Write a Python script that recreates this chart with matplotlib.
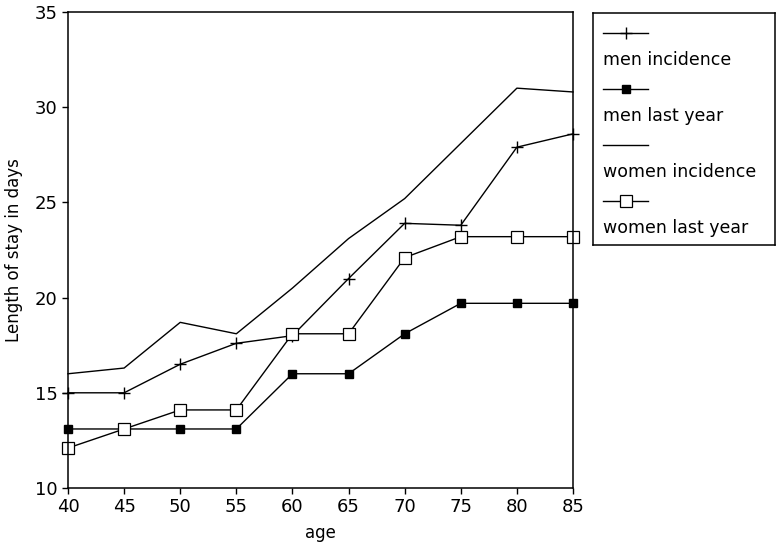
import numpy as np
import matplotlib
matplotlib.use('Agg')
import matplotlib.pyplot as plt

# Length of stay by age
age = [40, 45, 50, 55, 60, 65, 70, 75, 80, 85]
men_incidence = [15.0, 15.0, 16.5, 17.6, 18.0, 21.0, 23.9, 23.8, 27.9, 28.6]
men_last_year = [13.1, 13.1, 13.1, 13.1, 16.0, 16.0, 18.1, 19.7, 19.7, 19.7]
women_incidence = [16.0, 16.3, 18.7, 18.1, 20.5, 23.1, 25.2, 28.1, 31.0, 30.8]
women_last_year = [12.1, 13.1, 14.1, 14.1, 18.1, 18.1, 22.1, 23.2, 23.2, 23.2]

labels = ['men incidence', 'men last year', 'women incidence', 'women last year']
styles = [
    dict(marker='+', markersize=9, markeredgewidth=1.0),
    dict(marker='s', markersize=6, markerfacecolor='black', markeredgecolor='black'),
    dict(marker=None),
    dict(marker='s', markersize=8, markerfacecolor='white', markeredgecolor='black', markeredgewidth=0.9),
]
series = [men_incidence, men_last_year, women_incidence, women_last_year]

plt.rcParams['font.family'] = ['DejaVu Sans']

fig = plt.figure(figsize=(7.76, 5.53), dpi=100)
ax = fig.add_axes([68/776, 1 - 488/553, (573 - 68)/776, (488 - 12)/553])

for y, st in zip(series, styles):
    ax.plot(age, y, color='black', linewidth=1.0, clip_on=False, **st)

ax.set_xlim(40, 85)
ax.set_ylim(10, 35)
ax.set_xticks(range(40, 86, 5))
ax.set_yticks(range(10, 36, 5))
ax.tick_params(labelsize=13, length=4, width=1, direction='out', colors='black')
ax.tick_params(axis='x', pad=3)
ax.set_xlabel('age', fontsize=12, labelpad=6)
ax.set_ylabel('Length of stay in days', fontsize=12, labelpad=8)
for s in ax.spines.values():
    s.set_linewidth(1.1)

# legend box: line sample above each label
lg = fig.add_axes([593/776, 1 - 245/553, (775 - 593)/776, (245 - 13)/553])
lg.set_xlim(0, 1)
lg.set_ylim(1, 0)
lg.set_xticks([])
lg.set_yticks([])
for s in lg.spines.values():
    s.set_linewidth(1.1)
for i, (lab, st) in enumerate(zip(labels, styles)):
    y_line = (20 + i * 56) / 232
    y_text = (47 + i * 56) / 232
    lg.plot([0.055, 0.30], [y_line, y_line], color='black', linewidth=1.0)
    if st.get('marker'):
        lg.plot([0.18], [y_line], color='black', linestyle='none', **st)
    lg.text(0.055, y_text, lab, fontsize=12.5, va='center', ha='left')

fig.savefig('out.png', dpi=100)
